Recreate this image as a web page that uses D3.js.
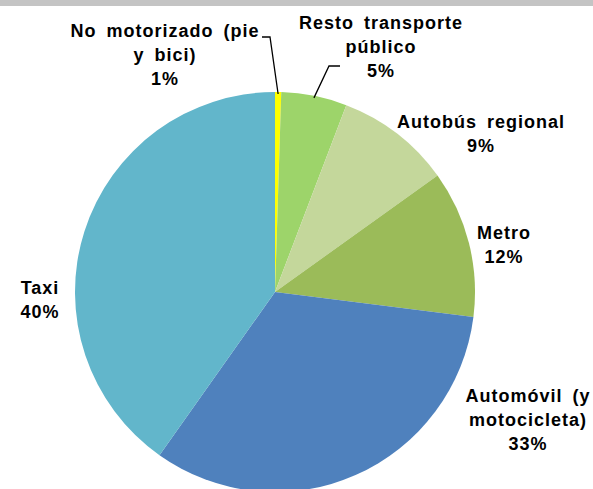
<!DOCTYPE html>
<html>
<head>
<meta charset="utf-8">
<script src="https://cdn.jsdelivr.net/npm/d3@7"></script>
<style>
    body { margin: 0; background: #fff; }
    .lbl { font-family: "Liberation Sans", Arial, sans-serif; font-weight: bold; font-size: 18px; fill: #000; letter-spacing: 1px; word-spacing: 4px; }
</style>
</head>
<body>
<div class="pie_chart"></div>
<script>

// modos de transporte, en orden desde las 12 en punto
const modes = ["No motorizado (pie y bici)", "Resto transporte público", "Autobús regional", "Metro", "Automóvil (y motocicleta)", "Taxi"]
const shares = [0.5, 5.3, 9.3, 11.9, 32.8, 40.2]
const pctLabels = ["1%", "5%", "9%", "12%", "33%", "40%"]
const labelLines = [
    ["No motorizado (pie", "y bici)"],
    ["Resto transporte", "público"],
    ["Autobús regional"],
    ["Metro"],
    ["Automóvil (y", "motocicleta)"],
    ["Taxi"]
]
const sliceColours = ["#FFFF00", "#9DD46A", "#C4D79B", "#9BBB59", "#4F81BD", "#62B6CB"]

const width = 593
const height = 489
const cx = 275
const cy = 292
const r = 200

// label anchor (centre x, first baseline y)
const labelPos = [
    [165, 37], [381, 29], [481, 128], [504, 239], [528, 402], [40, 294]
]
// leader lines: elbow and end point
const leaders = {
    0: [[270, 37], [262, 37]],
    1: [[329, 66], [340, 66]]
}

const data = modes.map((m, i) => ({ mode: m, value: shares[i], pct: pctLabels[i], lines: labelLines[i] }))

const svg = d3.select(".pie_chart")
    .append("svg")
    .attr("width", width)
    .attr("height", height)

// banda gris de la plantilla
svg.append("rect")
    .attr("x", 0).attr("y", 0)
    .attr("width", width).attr("height", 6)
    .attr("fill", "#c4c4c4")

const pie = d3.pie()
    .sort(null)
    .value(d => d.value)

const arcs = pie(data)

const arc = d3.arc().innerRadius(0).outerRadius(r)
const edgeArc = d3.arc().innerRadius(r - 2).outerRadius(r - 2)

const colour = d3.scaleOrdinal()
    .domain(modes)
    .range(sliceColours)

const g = svg.append("g")
    .attr("transform", `translate(${cx},${cy})`)

g.selectAll("path")
    .data(arcs)
    .join("path")
    .attr("d", arc)
    .attr("fill", d => colour(d.data.mode))

// leader lines
arcs.forEach((d, i) => {
    if (!leaders[i]) return
    const p = edgeArc.centroid(d)
    const pts = [[p[0] + cx, p[1] + cy], ...leaders[i]]
    svg.append("path")
        .attr("d", d3.line()(pts))
        .attr("fill", "none")
        .attr("stroke", "#000")
        .attr("stroke-width", 1.3)
})

// labels
data.forEach((d, i) => {
    const lines = d.lines.concat([d.pct])
    const t = svg.append("text")
        .attr("class", "lbl")
        .attr("text-anchor", "middle")
    lines.forEach((l, j) => {
        t.append("tspan")
            .attr("x", labelPos[i][0])
            .attr("y", labelPos[i][1] + j * 24)
            .text(l)
    })
})

</script>
</body>
</html>
